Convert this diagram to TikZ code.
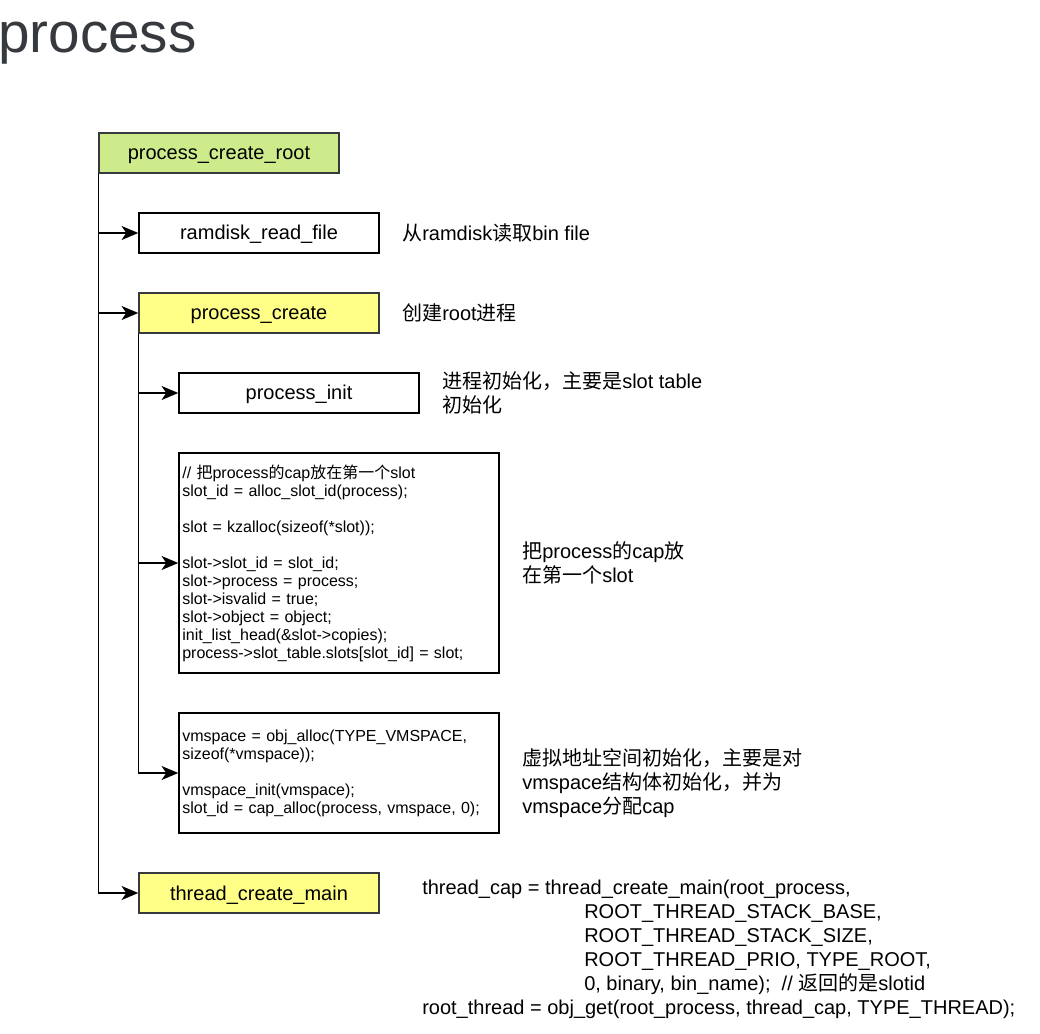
\documentclass[tikz,border=0pt]{standalone}
\usepackage{fontspec}
\setmainfont{Liberation Sans}
\newfontfamily\cjk{Noto Sans CJK SC}
\newcommand\zh[1]{{\cjk #1}}
\usetikzlibrary{arrows.meta}
\definecolor{dgray}{HTML}{36393D}
\definecolor{lgreen}{HTML}{CDEB8B}
\definecolor{lyellow}{HTML}{FFFF88}
\begin{document}
\begin{tikzpicture}[x=0.75pt,y=-0.75pt,
  fn/.style={draw=black, line width=1.1pt, minimum width=180pt, minimum height=30pt, inner sep=0pt, text height=12pt, text depth=1.5pt, font=\fontsize{15}{18}\selectfont},
  fng/.style={fn, draw=dgray, fill=lgreen},
  fny/.style={fn, draw=dgray, fill=lyellow},
  codebox/.style={draw=black, line width=1.1pt, text width=235pt, inner xsep=2.5pt, inner ysep=0pt, align=left, font=\fontsize{12}{13.5}\selectfont},
  note/.style={anchor=west, inner sep=0pt, align=left, font=\fontsize{15}{18}\selectfont},
  conn/.style={line width=1.1pt, -{Stealth[length=12.5pt, width=10.5pt, inset=3.5pt]}}
]
\useasboundingbox (0,0) rectangle (1040,1034);

\node[anchor=base west, inner sep=0pt, text=dgray, font=\fontsize{42.5}{48}\selectfont] (title) at (-2,53) {process};

\node[fng] (pcr) at (219,153) {process\_create\_root};
\node[fn]  (rrf) at (259,233) {ramdisk\_read\_file};
\node[fny] (pc)  at (259,313) {process\_create};
\node[fn]  (pi)  at (299,393) {process\_init};
\node[codebox, minimum height=165pt] (slot) at (339,563) {%
// \zh{把}process\zh{的}cap\zh{放在第一个}slot\\
slot\_id = alloc\_slot\_id(process);\\[13.5pt]
slot = kzalloc(sizeof(*slot));\\[13.5pt]
slot->slot\_id = slot\_id;\\
slot->process = process;\\
slot->isvalid = true;\\
slot->object = object;\\
init\_list\_head(\&slot->copies);\\
process->slot\_table.slots[slot\_id] = slot;};
\node[codebox, minimum height=90pt] (vm) at (339,773) {%
vmspace = obj\_alloc(TYPE\_VMSPACE,\\
sizeof(*vmspace));\\[13.5pt]
vmspace\_init(vmspace);\\
slot\_id = cap\_alloc(process, vmspace, 0);};
\node[fny] (tcm) at (259,893) {thread\_create\_main};

% notes
\node[note] (n1) at (402,233) {\zh{从}ramdisk\zh{读取}bin file};
\node[note] (n2) at (402,313) {\zh{创建}root\zh{进程}};
\node[note] (n3) at (442,393) {\zh{进程初始化，主要是}slot table\\\zh{初始化}};
\node[note] (n4) at (522,563) {\zh{把}process\zh{的}cap\zh{放}\\\zh{在第一个}slot};
\node[note] (n5) at (522,783) {\zh{虚拟地址空间初始化，主要是对}\\vmspace\zh{结构体初始化，并为}\\vmspace\zh{分配}cap};
\node[note] (n6) at (422,949) {thread\_cap = thread\_create\_main(root\_process,\\
\hspace*{121.5pt}ROOT\_THREAD\_STACK\_BASE,\\
\hspace*{121.5pt}ROOT\_THREAD\_STACK\_SIZE,\\
\hspace*{121.5pt}ROOT\_THREAD\_PRIO, TYPE\_ROOT,\\
\hspace*{121.5pt}0, binary, bin\_name);\ \ // \zh{返回的是}slotid\\
root\_thread = obj\_get(root\_process, thread\_cap, TYPE\_THREAD);};

% connectors
\draw[conn] (pcr.south west) |- (tcm.west);
\draw[conn] (pcr.south west |- rrf.west) -- (rrf.west);
\draw[conn] (pcr.south west |- pc.west) -- (pc.west);
\draw[conn] (pc.south west) |- (vm.west);
\draw[conn] (pc.south west |- pi.west) -- (pi.west);
\draw[conn] (pc.south west |- slot.west) -- (slot.west);
\end{tikzpicture}
\end{document}
